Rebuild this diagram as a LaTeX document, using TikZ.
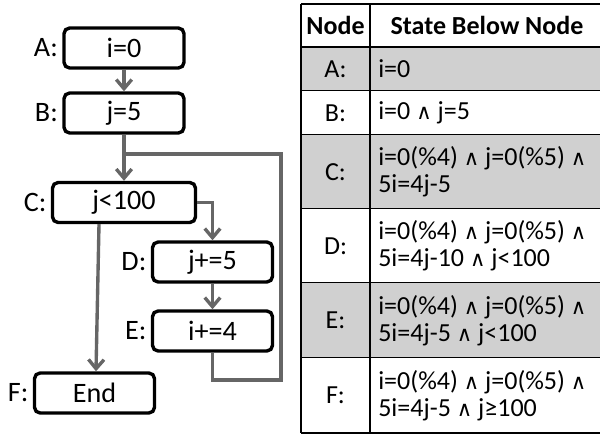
\documentclass[tikz,border=0pt]{standalone}
\usepackage{fontspec}
\setmainfont{Carlito}
\newfontfamily\symfont{DejaVu Sans}
\usetikzlibrary{arrows.meta,calc,positioning}
\definecolor{flowgray}{HTML}{666666}
\definecolor{rowgray}{HTML}{D0D0D0}
\newcommand{\wedgesym}{{\symfont\fontsize{15}{19}\selectfont ∧}}

\begin{document}
\begin{tikzpicture}[x=0.025cm,y=-0.025cm,
    box/.style={draw,line width=2.4pt,rounded corners=4pt,minimum height=1cm,
      minimum width=3cm,inner sep=0pt,font=\fontsize{20}{22}\selectfont},
    lbl/.style={inner sep=1pt,font=\fontsize{20}{22}\selectfont},
    flow/.style={draw=flowgray,line width=2.4pt},
    arr/.style={flow,-{Straight Barb[length=6.5pt,width=11pt]}},
    cell/.style={inner sep=0pt,font=\fontsize{18.5}{19.5}\selectfont},
    head/.style={inner sep=0pt,font=\fontsize{18.5}{19.5}\selectfont\bfseries}]
  \useasboundingbox (0,0) rectangle (600,435);

  % flow graph
  \node[box] (A) at (124,48) {i=0};
  \node[box] (B) at (124,113) {j=5};
  \node[box,minimum width=3.575cm] (C) at (124,202.5) {j<100};
  \node[box] (D) at (212.5,262) {j+=5};
  \node[box] (E) at (212.5,331) {i+=4};
  \node[box] (F) at (94.5,393) {End};

  \node[lbl,left=2pt of A] (lA) {A:};
  \node[lbl,left=2pt of B] (lB) {B:};
  \node[lbl,left=2pt of C] (lC) {C:};
  \node[lbl,left=2pt of D] (lD) {D:};
  \node[lbl,left=2pt of E] (lE) {E:};
  \node[lbl,left=2pt of F] (lF) {F:};

  \coordinate (join) at (124,154);
  \coordinate (loop) at (281,380);

  \draw[arr] (A) -- (B);
  \draw[arr] (B) -- (C);
  \draw[flow] (E.south) |- (loop) |- (join);
  \draw[arr] (C.east) -| (D.north);
  \draw[arr] (D) -- (E);
  \draw[arr] ($(C.south)+(-25,0)$) -- ($(F.north)+(1.5,0)$);

  % state table
  \foreach \row/\top/\bot/\shade/\txt in {
      A/47/91/rowgray/{i=0},
      B/91/135/white/{i=0 \wedgesym{} j=5},
      C/135/209/rowgray/{i=0(\%4) \wedgesym{} j=0(\%5) \wedgesym\\5i=4j-5},
      D/209/283/white/{i=0(\%4) \wedgesym{} j=0(\%5) \wedgesym\\5i=4j-10 \wedgesym{} j<100},
      E/283/358/rowgray/{i=0(\%4) \wedgesym{} j=0(\%5) \wedgesym\\5i=4j-5 \wedgesym{} j<100},
      F/358/433/white/{i=0(\%4) \wedgesym{} j=0(\%5) \wedgesym\\5i=4j-5 \wedgesym{} j≥100}} {
    \fill[\shade] (301,\top) rectangle (600,\bot);
    \draw[line width=1.4pt] (301,\bot) -- (600,\bot);
    \node[cell] (n\row) at (335.5,{(\top+\bot)/2}) {\row:};
    \node[cell,anchor=west,align=left] (s\row) at (378,{(\top+\bot)/2}) {\txt};
  }
  \node[head] (hNode) at (335.5,25.5) {Node};
  \node[head] (hState) at (487,25.5) {State Below Node};
  \draw[line width=1.4pt] (301,4) -- (600,4);
  \draw[line width=2.1pt] (301,47) -- (600,47);
  \draw[line width=1.4pt] (301,4) -- (301,433) (370,4) -- (370,433);
\end{tikzpicture}
\end{document}
